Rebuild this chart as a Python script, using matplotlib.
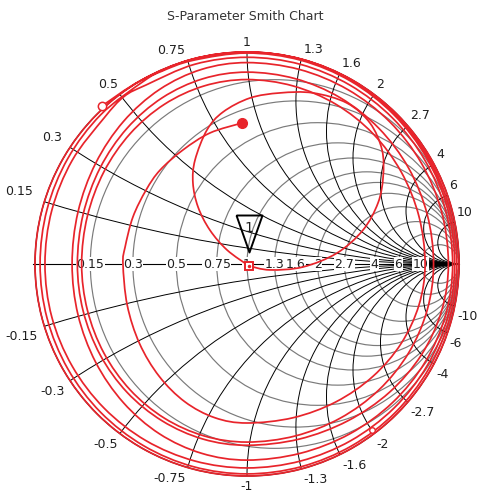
import numpy as np
import matplotlib
matplotlib.use('Agg')
import matplotlib.pyplot as plt
from matplotlib.patches import Circle, PathPatch
from matplotlib.path import Path

RED = '#e8242b'
GRAY = '#7a7a7a'
TXT = '#1f1f1f'

# grid values (normalised resistance / reactance)
r_vals = [0.15, 0.3, 0.5, 0.75, 1, 1.3, 1.6, 2, 2.7, 4, 6, 10]
x_vals = [0.15, 0.3, 0.5, 0.75, 1, 1.3, 1.6, 2, 2.7, 4, 6, 10]

# reflection coefficient trace (re, im), one list per turn
rev1 = [(-0.024, 0.665), (-0.175, 0.618), (-0.302, 0.538), (-0.410, 0.443), (-0.476, 0.349),
        (-0.538, 0.222), (-0.575, 0.080), (-0.585, 0.0),
        (-0.565, -0.194), (-0.507, -0.375), (-0.414, -0.530), (-0.293, -0.650), (-0.152, -0.725), (0.0, -0.75),
        (0.218, -0.725), (0.42, -0.65), (0.594, -0.53), (0.727, -0.375), (0.811, -0.194), (0.84, 0.0),
        (0.811, 0.225), (0.727, 0.435), (0.594, 0.615), (0.42, 0.753), (0.217, 0.84), (0.0, 0.87)]
rev2 = [(-0.202, 0.84), (-0.39, 0.753), (-0.551, 0.615), (-0.675, 0.435), (-0.753, 0.225), (-0.78, 0.0),
        (-0.753, -0.217), (-0.675, -0.42), (-0.551, -0.594), (-0.39, -0.727), (-0.202, -0.811), (0.0, -0.84),
        (0.228, -0.811), (0.44, -0.727), (0.622, -0.594), (0.762, -0.42), (0.85, -0.217), (0.88, 0.0),
        (0.85, 0.234), (0.762, 0.453), (0.622, 0.64), (0.44, 0.784), (0.228, 0.874), (0.0, 0.905)]
rev3 = [(-0.207, 0.874), (-0.4, 0.784), (-0.566, 0.64), (-0.693, 0.453), (-0.773, 0.234), (-0.8, 0.0),
        (-0.773, -0.221), (-0.693, -0.428), (-0.566, -0.605), (-0.4, -0.74), (-0.207, -0.826), (0.0, -0.855),
        (0.246, -0.826), (0.475, -0.74), (0.672, -0.605), (0.823, -0.428), (0.918, -0.221), (0.95, 0.0),
        (0.918, 0.246), (0.823, 0.475), (0.672, 0.672), (0.475, 0.823), (0.246, 0.918), (0.0, 0.95)]
rev4 = [(-0.214, 0.918), (-0.413, 0.823), (-0.583, 0.672), (-0.714, 0.475), (-0.797, 0.246), (-0.825, 0.0),
        (-0.797, -0.24), (-0.714, -0.463), (-0.583, -0.654), (-0.413, -0.801), (-0.214, -0.893), (0.0, -0.925),
        (0.251, -0.893), (0.485, -0.801), (0.686, -0.654), (0.84, -0.463), (0.937, -0.24), (0.97, 0.0),
        (0.937, 0.252), (0.84, 0.488), (0.686, 0.689), (0.485, 0.844), (0.251, 0.942), (0.0, 0.975)]
rev5 = [(-0.247, 0.942), (-0.477, 0.844), (-0.58, 0.79), (-0.674, 0.689), (-0.825, 0.488), (-0.921, 0.252), (-0.953, 0.0),
        (-0.921, -0.249), (-0.825, -0.481), (-0.674, -0.68), (-0.477, -0.833), (-0.247, -0.929), (0.0, -0.962),
        (0.254, -0.929), (0.49, -0.833), (0.693, -0.68), (0.849, -0.481), (0.947, -0.249), (0.98, 0.0),
        (0.947, 0.258), (0.849, 0.498), (0.693, 0.704), (0.49, 0.862), (0.254, 0.961), (0.0, 0.995)]
rev6 = [(-0.253, 0.961), (-0.40, 0.91), (-0.488, 0.862), (-0.69, 0.704), (-0.845, 0.498), (-0.943, 0.258), (-0.976, 0.0),
        (-0.943, -0.256), (-0.845, -0.495), (-0.69, -0.7), (-0.488, -0.857), (-0.253, -0.956), (0.0, -0.99),
        (0.256, -0.956), (0.495, -0.857), (0.7, -0.7), (0.857, -0.495), (0.956, -0.256), (0.99, 0.0),
        (0.956, 0.259), (0.857, 0.5), (0.7, 0.707), (0.495, 0.866), (0.256, 0.966), (0.0, 1.0)]
rev7 = [(-0.259, 0.966), (-0.5, 0.866), (-0.707, 0.707), (-0.866, 0.5), (-0.966, 0.259), (-1.0, 0.0),
        (-0.966, -0.259), (-0.866, -0.5), (-0.707, -0.707), (-0.5, -0.866), (-0.259, -0.966), (0.0, -1.0),
        (0.259, -0.966), (0.5, -0.866), (0.707, -0.707), (0.866, -0.5), (0.966, -0.259), (1.0, 0.0),
        (0.966, 0.259), (0.866, 0.5), (0.707, 0.707), (0.5, 0.866), (0.259, 0.966), (0.0, 1.0),
        (-0.259, 0.966), (-0.5, 0.866), (-0.685, 0.745)]

# small loop through the matched point
inner = [(0.009, -0.009), (0.108, -0.028), (0.264, -0.014), (0.425, 0.052), (0.547, 0.160),
         (0.618, 0.288), (0.642, 0.410), (0.637, 0.538), (0.580, 0.665), (0.472, 0.759),
         (0.311, 0.807), (0.156, 0.807), (0.014, 0.783), (-0.113, 0.717), (-0.189, 0.632),
         (-0.245, 0.491), (-0.255, 0.382), (-0.231, 0.269), (-0.175, 0.160), (-0.094, 0.066),
         (0.009, -0.009)]

start_pt = (-0.024, 0.665)
open_pts = [(-0.685, 0.745), (0.590, -0.783)]
center_pt = (0.009, -0.009)


def smooth_path(pts):
    # draw through the points with cubic Bezier pieces (Catmull-Rom tangents)
    p = np.asarray(pts, float)
    ext = np.vstack([p[0], p, p[-1]])
    verts = [p[0]]
    codes = [Path.MOVETO]
    for i in range(len(p) - 1):
        p0, p1, p2, p3 = ext[i], ext[i + 1], ext[i + 2], ext[i + 3]
        verts += [p1 + (p2 - p0) / 6, p2 - (p3 - p1) / 6, p2]
        codes += [Path.CURVE4] * 3
    return Path(verts, codes)


fig = plt.figure(figsize=(4.78, 4.93), dpi=100)
ax = fig.add_axes([0, 0, 1, 1])
ax.set_xlim(-247 / 212, 231 / 212)
ax.set_ylim(-229 / 212, 264 / 212)
ax.axis('off')

clip = Circle((0, 0), 1, transform=ax.transData)

# resistance circles (gray)
for r in r_vals:
    ax.add_patch(Circle((r / (r + 1), 0), 1 / (r + 1), fill=False, ec=GRAY, lw=0.85, zorder=1))

# reactance arcs (black), clipped to the unit circle
for x in x_vals:
    for s in (1, -1):
        c = Circle((1, s / x), 1 / x, fill=False, ec='black', lw=0.7, zorder=1.5)
        ax.add_patch(c)
        c.set_clip_path(clip)

ax.add_patch(Circle((0, 0), 1, fill=False, ec='black', lw=0.9, zorder=2))
ax.plot([-1.01, 1], [0, 0], color='black', lw=0.8, zorder=2)

# labels on the real axis
for r in r_vals:
    ax.text((r - 1) / (r + 1), 0, f'{r:g}', ha='center', va='center', fontsize=9, color=TXT,
            zorder=3, bbox=dict(boxstyle='square,pad=0.05', fc='white', ec='none'))

# reactance labels round the rim (offsets in points)
for x in x_vals:
    for s in (1, -1):
        th = np.arctan2(2 * s * x, x * x - 1)
        cx, cy = np.cos(th), np.sin(th)
        if cx > 0.05:
            ha, dx = 'left', 1.5
        elif cx < -0.05:
            extra = max(0.0, -cx - 0.6) / 0.35 * (6.5 if s > 0 else 3.5)
            ha, dx = 'right', -1.5 - extra
        else:
            ha, dx = 'center', 0
        va, dy = ('bottom', 2.5) if s > 0 else ('top', -3)
        lbl = f'{x:g}' if s > 0 else f'-{x:g}'
        ax.annotate(lbl, (cx, cy), xytext=(dx, dy), textcoords='offset points',
                    ha=ha, va=va, fontsize=9, color=TXT)

# trace
spiral = rev1 + rev2 + rev3 + rev4 + rev5 + rev6 + rev7
for seg in (spiral, inner):
    ax.add_patch(PathPatch(smooth_path(seg), fill=False, ec=RED, lw=1.25, zorder=5,
                           joinstyle='round', capstyle='round'))

ax.plot(*start_pt, 'o', color=RED, ms=7, zorder=6)
ax.plot(*open_pts[0], 'o', mfc='white', mec=RED, ms=6, mew=1.1, zorder=6)
ax.plot(*open_pts[1], 'o', mfc='white', mec=RED, ms=4, mew=1.0, zorder=6)
ax.plot(*center_pt, 's', mfc='white', mec=RED, ms=5.5, mew=1.4, zorder=6)
ax.plot(*center_pt, 'o', color=RED, ms=1.5, zorder=7)

# marker "1" (triangle above the matched point, sizes in pixels)
tri = [(-13, 51), (13, 51), (0, 14), (-13, 51)]
ax.plot(*center_pt, marker=tri, ms=102 * 0.72, mfc='none', mec='black', mew=1.4,
        ls='none', zorder=7)
ax.annotate('1', center_pt, xytext=(0, 38 * 0.72), textcoords='offset points',
            ha='center', va='center', fontsize=10, color=TXT, zorder=8)

fig.text(245 / 478, 1 - 16 / 493, 'S-Parameter Smith Chart', ha='center', va='center',
         fontsize=9, color='#333333')

fig.savefig('out.png', dpi=100, facecolor='white')
